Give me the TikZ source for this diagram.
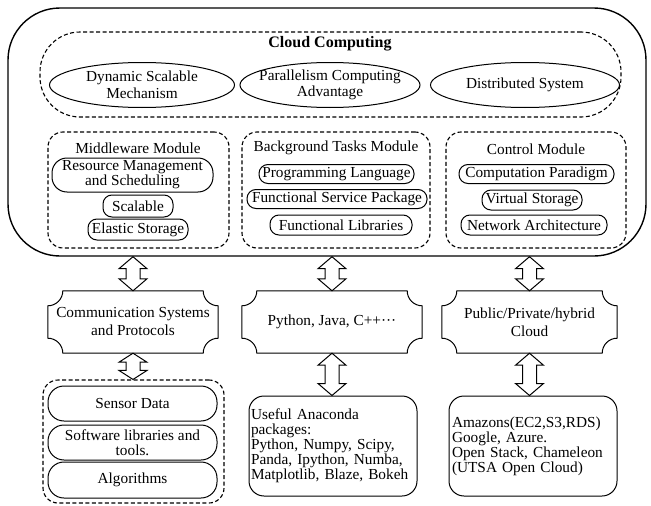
\documentclass[tikz,border=0pt]{standalone}
\usepackage{fontspec}
\setmainfont{Liberation Serif}
\usetikzlibrary{shapes.geometric,shapes.misc,calc}

% frame with concave (inward) quarter-circle corners around a node
\newcommand\concaveframe[1]{%
  \draw[plaqueline] let \p1=(#1.north west), \p2=(#1.south east) in
    (\x1+15pt,\y1) -- (\x2-15pt,\y1)
    arc[start angle=180, end angle=270, radius=15pt]
    -- (\x2,\y2+15pt)
    arc[start angle=90, end angle=180, radius=15pt]
    -- (\x1+15pt,\y2)
    arc[start angle=0, end angle=90, radius=15pt]
    -- (\x1,\y1-15pt)
    arc[start angle=270, end angle=360, radius=15pt] -- cycle;}

% hollow two-headed block arrow between two points on a vertical line;
% optional argument: length of each head
\newcommand\hollowarrow[3][12pt]{%
  \draw[arrowline] let \p1=(#2), \p2=(#3) in
    (\x1,\y1) -- (\x1+14pt,\y1-#1) -- (\x1+7pt,\y1-#1)
    -- (\x1+7pt,\y2+#1) -- (\x1+14pt,\y2+#1) -- (\x1,\y2)
    -- (\x1-14pt,\y2+#1) -- (\x1-7pt,\y2+#1)
    -- (\x1-7pt,\y1-#1) -- (\x1-14pt,\y1-#1) -- cycle;}

\tikzset{
  every node/.style={font=\fontsize{15.3}{16.5}\selectfont, inner sep=0pt, align=center},
  outerbox/.style={draw, line width=1.4pt, rounded corners=52pt},
  dashbox/.style={draw, line width=1.1pt, dash pattern=on 4pt off 2.5pt},
  oval/.style={draw, ellipse, line width=1pt},
  pill/.style={draw, rectangle, rounded corners=9pt, line width=1pt},
  plaque/.style={rectangle, draw=none},
  plaqueline/.style={line width=1pt},
  listbox/.style={draw, rectangle, rounded corners=15pt, line width=1pt, align=left,
                  inner xsep=2pt, inner ysep=0pt, font=\fontsize{15.3}{15}\selectfont},
  arrowline/.style={draw, fill=white, line width=1pt, line join=miter},
  titletext/.style={font=\bfseries\fontsize{16}{18}\selectfont}
}

\begin{document}
\begin{tikzpicture}[x=1pt, y=-1pt]
\useasboundingbox (0,0) rectangle (651,506);
\fill[white] (0,0) rectangle (651,506);

% cloud platform
\node[outerbox, minimum width=638pt, minimum height=248pt] (outer) at (327,132) {};
\node[dashbox, rounded corners=40pt, minimum width=581pt, minimum height=85pt] (cc) at (330.5,74.5) {};
\node[titletext] (cctitle) at (330,44) {Cloud Computing};

\node[oval, minimum width=185pt, minimum height=45pt] (e1) at (142,85) {};
\node (e1t) at (e1.center) {Dynamic Scalable\\Mechanism};
\node[oval, minimum width=180pt, minimum height=45pt] (e2) at (330,85) {};
\node (e2t) at (e2.center) {Parallelism Computing\\Advantage};
\node[oval, minimum width=189pt, minimum height=45pt] (e3) at (525,85) {};
\node (e3t) at (e3.center) {Distributed System};

% modules
\node[dashbox, rounded corners=15pt, minimum width=181pt, minimum height=116pt] (mw) at (138.5,190) {};
\node[dashbox, rounded corners=15pt, minimum width=188pt, minimum height=116pt] (bg) at (336,190) {};
\node[dashbox, rounded corners=15pt, minimum width=180pt, minimum height=116pt] (ctl) at (536,190) {};

\node (mwt) at (138,148) {Middleware Module};
\node (bgt) at (336,148) {Background Tasks Module};
\node (ctlt) at (536,149) {Control Module};

\node[pill, rounded corners=15pt, minimum width=161pt, minimum height=34pt,
      font=\fontsize{15.3}{15}\selectfont] (rm) at (132.5,175) {Resource Management\\and Scheduling};
\node[pill, minimum width=70pt, minimum height=22pt] (sc) at (138,206) {Scalable};
\node[pill, minimum width=100pt, minimum height=21pt] (es) at (138,229.5) {Elastic Storage};

\node[pill, minimum width=155pt, minimum height=19pt] (pl) at (336.5,174) {Programming Language};
\node[pill, minimum width=180pt, minimum height=19pt] (fs) at (337,199) {Functional Service Package};
\node[pill, minimum width=142pt, minimum height=20pt] (fl) at (341,225) {Functional Libraries};

\node[pill, minimum width=155pt, minimum height=19pt] (cp) at (536.5,174) {Computation Paradigm};
\node[pill, minimum width=100pt, minimum height=20pt] (vs) at (532,200) {Virtual Storage};
\node[pill, minimum width=146pt, minimum height=20pt] (na) at (534,225) {Network Architecture};

% middle row
\node[plaque, minimum width=170pt, minimum height=62pt,
      font=\fontsize{15.3}{18}\selectfont] (comm) at (133,322) {Communication Systems\\and Protocols};
\node[plaque, minimum width=180pt, minimum height=62pt] (lang) at (332,322) {Python, Java, C++···};
\node[plaque, minimum width=175pt, minimum height=62pt,
      font=\fontsize{15.3}{18}\selectfont] (pub) at (529.5,322) {Public/Private/hybrid\\Cloud};
\concaveframe{comm}
\concaveframe{lang}
\concaveframe{pub}

% bottom row
\node[dashbox, rounded corners=15pt, minimum width=181pt, minimum height=123pt] (data) at (133.5,441.5) {};
\node[pill, rounded corners=16pt, minimum width=169pt, minimum height=35pt] (sd) at (132.5,403.5) {Sensor Data};
\node[pill, rounded corners=16pt, minimum width=169pt, minimum height=35pt,
      font=\fontsize{15.3}{15}\selectfont] (sw) at (132.5,442.5) {Software libraries and\\tools.};
\node[pill, rounded corners=16pt, minimum width=169pt, minimum height=36pt] (al) at (132.5,480) {Algorithms};

\node[listbox, text width=164pt, minimum height=100pt] (ana) at (333,446)
  {Useful Anaconda\\packages:\\Python, Numpy, Scipy,\\Panda, Ipython, Numba,\\Matplotlib, Blaze, Bokeh};
\node[listbox, inner xsep=3pt, text width=162pt, minimum height=100pt] (prov) at (533,446)
  {Amazons(EC2,S3,RDS)\\Google, Azure.\\Open Stack, Chameleon\\(UTSA Open Cloud)};

% connectors
\hollowarrow{outer.south -| comm.north}{comm.north}
\hollowarrow{outer.south -| lang.north}{lang.north}
\hollowarrow{outer.south -| pub.north}{pub.north}
\hollowarrow[9pt]{comm.south}{comm.south |- data.north}
\hollowarrow{lang.south}{lang.south |- ana.north}
\hollowarrow{pub.south}{pub.south |- prov.north}
\end{tikzpicture}
\end{document}
